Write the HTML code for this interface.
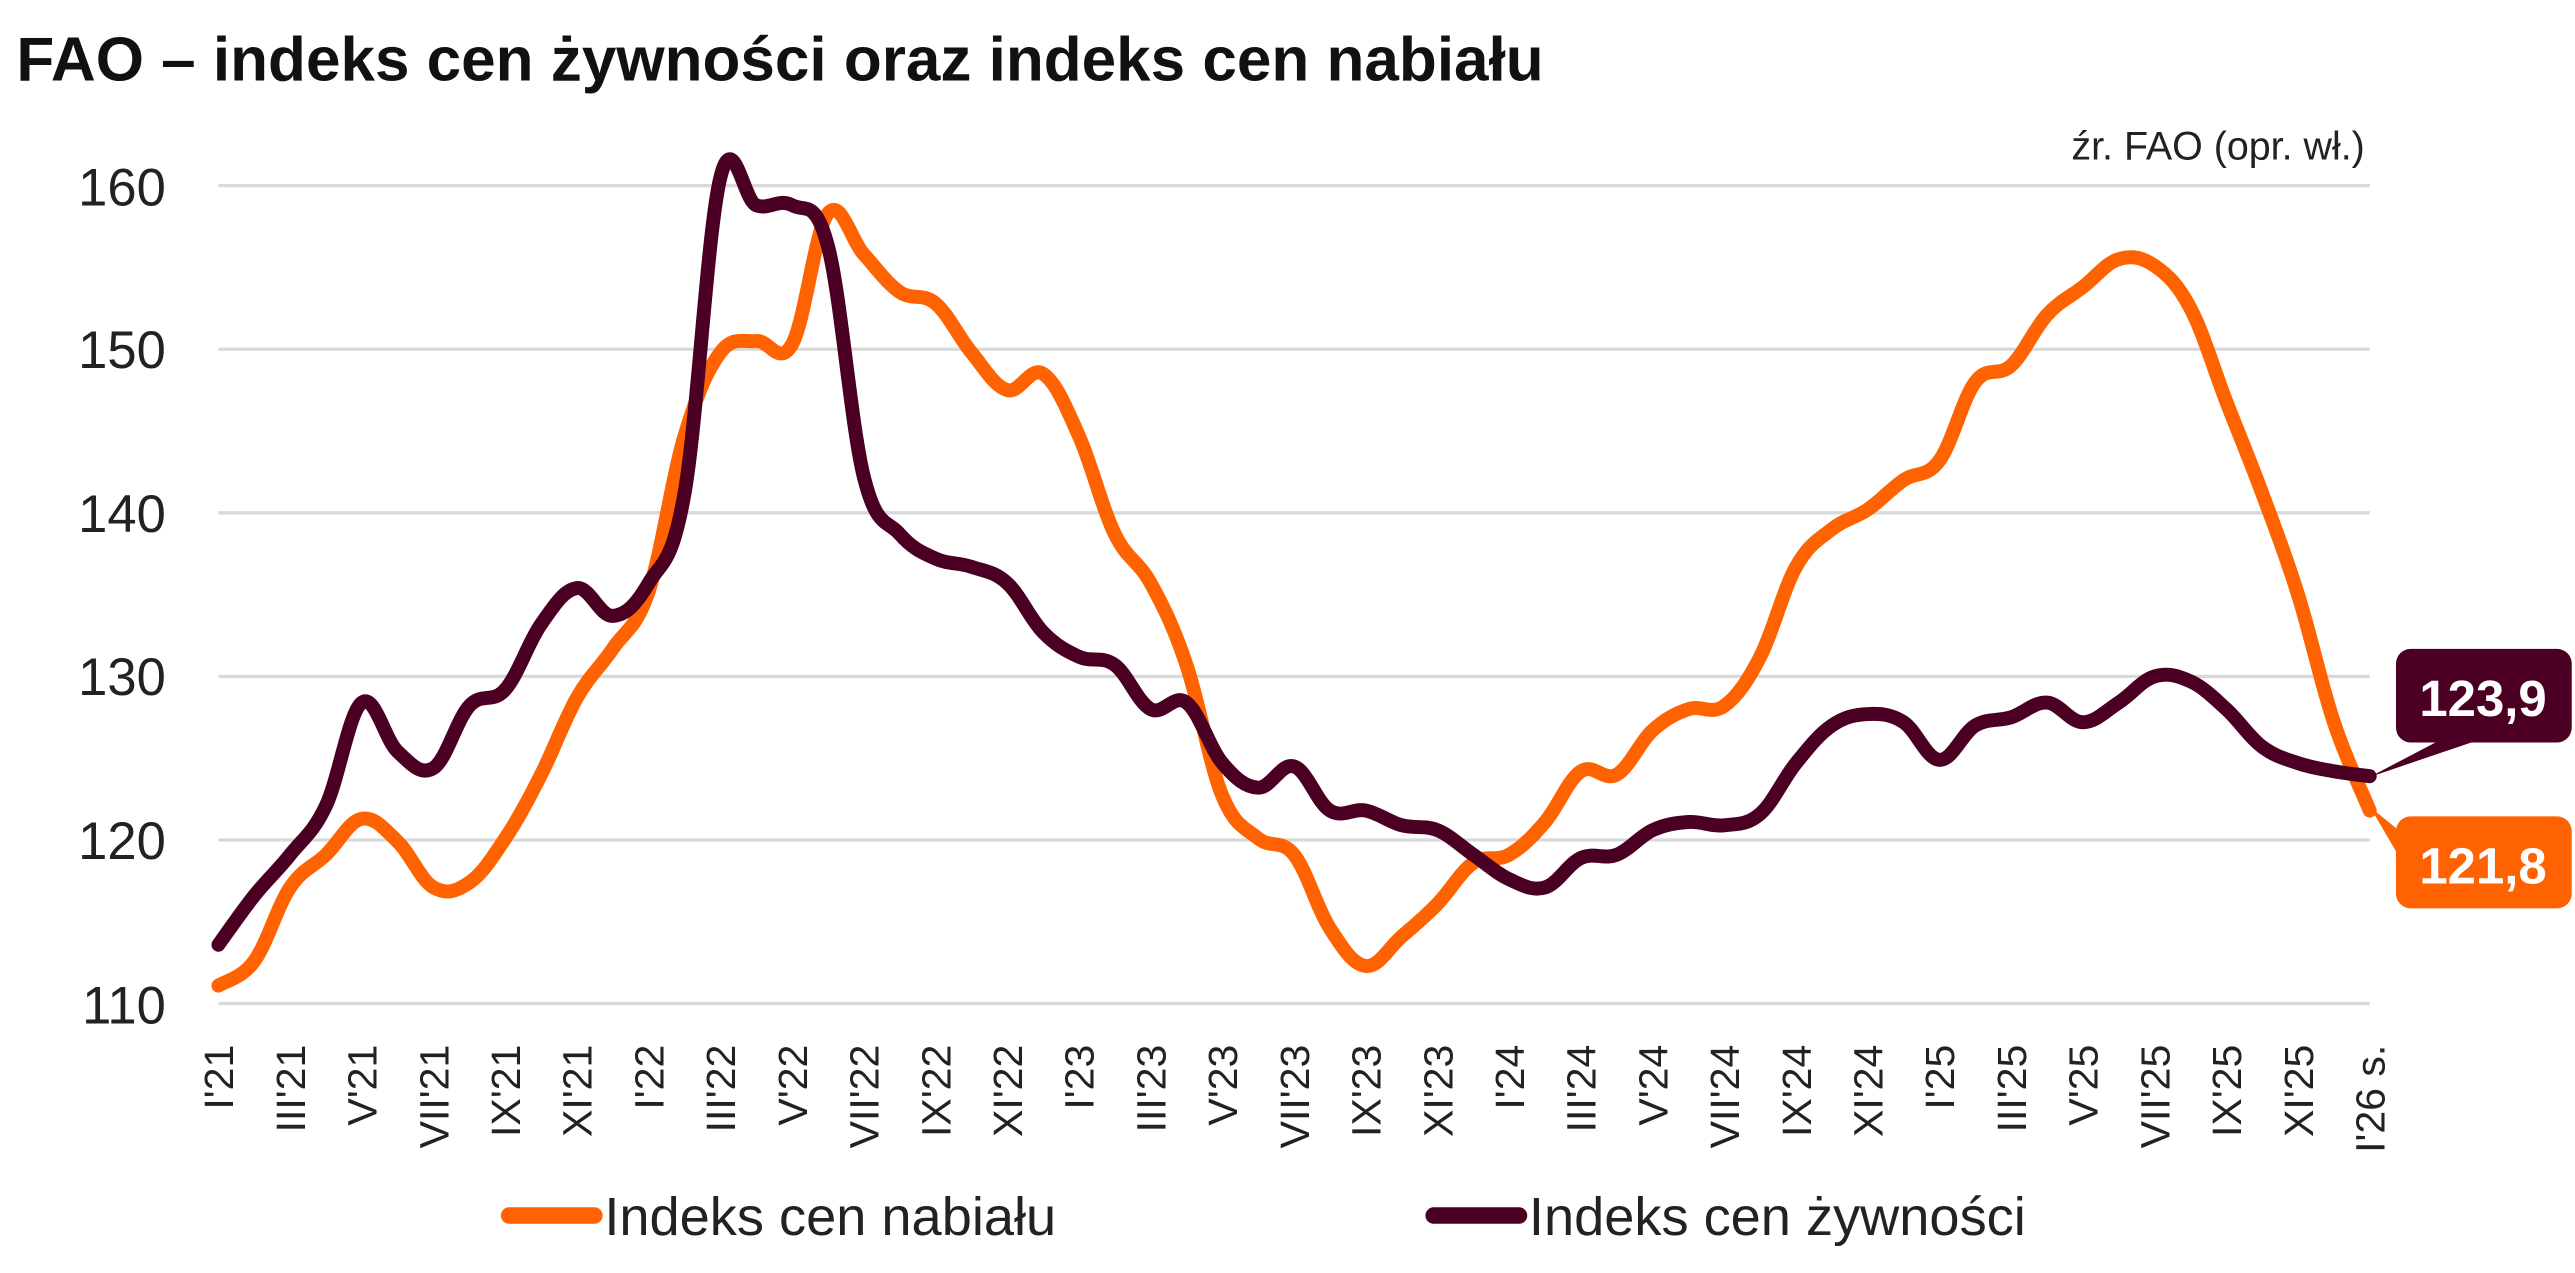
<!DOCTYPE html>
<html><head><meta charset="utf-8"><style>
html,body{margin:0;padding:0;background:#fff;}
svg{display:block;}
text{font-family:"Liberation Sans",sans-serif;}
</style></head><body>
<svg id="s" width="2575" height="1273" viewBox="0 0 1568 775" preserveAspectRatio="none" xmlns="http://www.w3.org/2000/svg">
<text x="10" y="49" font-size="38" font-weight="bold" fill="#111" textLength="930" lengthAdjust="spacingAndGlyphs">FAO – indeks cen żywności oraz indeks cen nabiału</text>
<text x="1440" y="97" font-size="24" fill="#222" text-anchor="end">źr. FAO (opr. wł.)</text>
<g stroke="#d9d9d9" stroke-width="2">
<line x1="133" x2="1443" y1="113" y2="113"/><line x1="133" x2="1443" y1="212.6" y2="212.6"/>
<line x1="133" x2="1443" y1="312.2" y2="312.2"/><line x1="133" x2="1443" y1="411.8" y2="411.8"/>
<line x1="133" x2="1443" y1="511.4" y2="511.4"/><line x1="133" x2="1443" y1="611" y2="611"/>
</g>
<g font-size="32" fill="#222" text-anchor="end">
<text x="101" y="125">160</text><text x="101" y="224">150</text><text x="101" y="324">140</text>
<text x="101" y="423">130</text><text x="101" y="523">120</text><text x="101" y="623">110</text>
</g>
<g id="xl" font-size="25" fill="#222" text-anchor="end"></g>
<path id="dairy" fill="none" stroke="#FF6200" stroke-width="8.5" stroke-linejoin="round" stroke-linecap="round"/>
<path id="food" fill="none" stroke="#4B0023" stroke-width="8.5" stroke-linejoin="round" stroke-linecap="round"/>
<rect x="1459" y="395" width="107" height="57" rx="9" fill="#4B0023"/>
<polygon points="1443,473 1485,451 1508,451" fill="#4B0023"/>
<text x="1512" y="436" font-size="31" font-weight="bold" fill="#fff" text-anchor="middle">123,9</text>
<rect x="1459" y="497" width="107" height="56" rx="9" fill="#FF6200"/>
<polygon points="1443,491 1460,505 1460,520" fill="#FF6200"/>
<text x="1512" y="538" font-size="31" font-weight="bold" fill="#fff" text-anchor="middle">121,8</text>
<line x1="310" x2="362" y1="740" y2="740" stroke="#FF6200" stroke-width="10" stroke-linecap="round"/>
<text x="368" y="752" font-size="33" fill="#222">Indeks cen nabiału</text>
<line x1="873" x2="925" y1="740" y2="740" stroke="#4B0023" stroke-width="10" stroke-linecap="round"/>
<text x="931" y="752" font-size="33" fill="#222">Indeks cen żywności</text>
</svg>
<script>
var food=[113.6,116.6,119.1,122.1,128.4,125.4,124.4,128.2,129.2,133.2,135.4,133.7,135.7,141.2,160.5,158.8,158.8,156.3,142.2,138.7,137.2,136.7,135.7,132.7,131.2,130.7,128,128.4,124.7,123.2,124.5,121.8,121.8,120.9,120.6,119.1,117.6,117.1,118.9,119.1,120.6,121.1,120.9,121.6,124.7,127,127.7,127.2,124.9,127,127.5,128.4,127.2,128.4,130,129.7,128,125.7,124.7,124.2,123.9];
var dairy=[111.1,112.6,117.1,119.1,121.3,119.9,117.1,117.4,120.1,124,128.7,131.7,135.2,144.7,149.8,150.5,150.3,158.3,155.8,153.5,152.8,149.8,147.5,148.5,144.7,138.7,135.7,130.7,122.7,120.1,119.1,114.6,112.3,114.1,116.1,118.6,119.1,121.1,124.2,124,126.7,128,128.2,131.2,136.7,139,140.2,142,143.2,148,149,152.1,153.8,155.5,155.1,152.5,146.8,141.2,135,127.2,121.8];
function X(i){return 133+i*1310/60;}function Y(v){return 113+(160-v)*9.96;}
function path(d){var p=d.map(function(v,i){return [X(i),Y(v)];});var s="M"+p[0][0]+","+p[0][1];
for(var i=0;i<p.length-1;i++){var a=p[Math.max(0,i-1)],b=p[i],c=p[i+1],e=p[Math.min(p.length-1,i+2)];var t=0.18;
s+=" C"+(b[0]+(c[0]-a[0])*t)+","+(b[1]+(c[1]-a[1])*t)+" "+(c[0]-(e[0]-b[0])*t)+","+(c[1]-(e[1]-b[1])*t)+" "+c[0]+","+c[1];}return s;}
document.getElementById("dairy").setAttribute("d",path(dairy));
document.getElementById("food").setAttribute("d",path(food));
var r=["I","III","V","VII","IX","XI"],g=document.getElementById("xl"),h="";
for(var i=0;i<=30;i++){var yr=21+Math.floor(i/6);var lab=r[i%6]+"'"+yr;if(i==30)lab="I'26 s.";var x=X(i*2)+9;
h+='<text transform="translate('+x+',636) rotate(-90)">'+lab+'</text>';}
g.innerHTML=h;
</script>
</body></html>
